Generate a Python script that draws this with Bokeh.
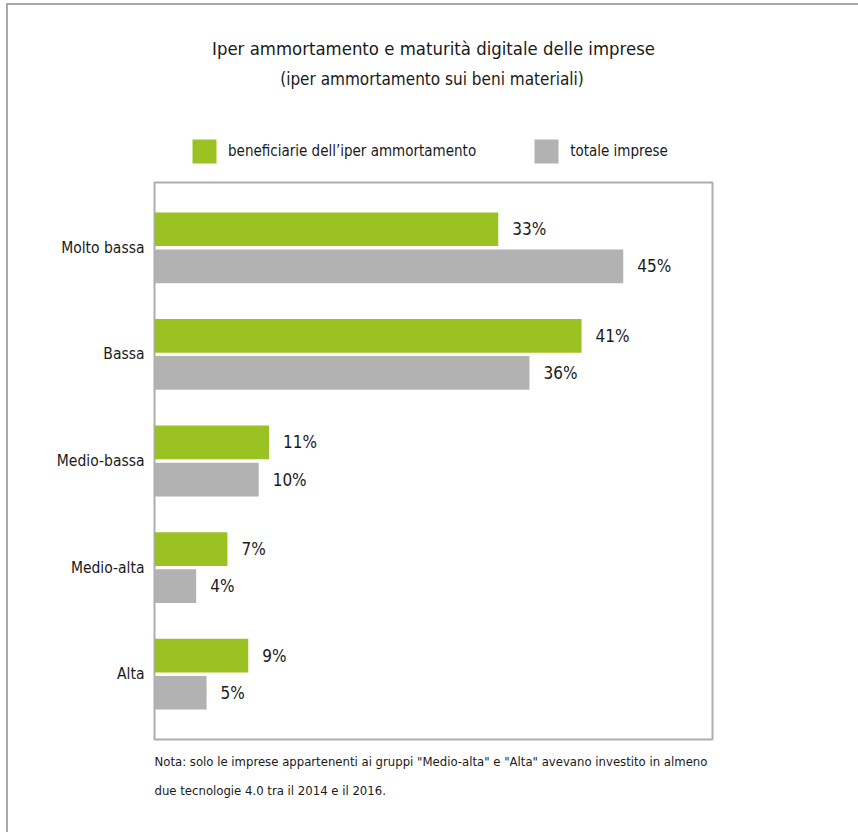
from bokeh.plotting import figure
from bokeh.layouts import column
from bokeh.models import (ColumnDataSource, FactorRange, Range1d, Legend,
                          LegendItem, Title, Label)
from bokeh.transform import dodge
from bokeh.core.properties import value
from bokeh.embed import file_html
from bokeh.resources import INLINE

categories = ["Molto bassa", "Bassa", "Medio-bassa", "Medio-alta", "Alta"]
beneficiarie = [33, 41, 11, 7, 9]
totale = [45, 36, 10, 4, 5]
series_names = ["beneficiarie dell\u2019iper ammortamento", "totale imprese"]
title_text = "Iper ammortamento e maturit\u00e0 digitale delle imprese"
subtitle_text = "(iper ammortamento sui beni materiali)"
note_lines = ['Nota: solo le imprese appartenenti ai gruppi "Medio-alta" e "Alta" avevano investito in almeno',
              "due tecnologie 4.0 tra il 2014 e il 2016."]

FONT = "DejaVu Sans Condensed"
GREEN = "#9bc223"
GRAY = "#b2b2b2"
TXT = "#1a1a1a"
W = 850
HEAD_H = 172
MAIN_H = 655

src = ColumnDataSource(dict(
    cat=categories,
    benef=beneficiarie,
    tot=totale,
    benef_lbl=[f"{v}%" for v in beneficiarie],
    tot_lbl=[f"{v}%" for v in totale],
))

# ---------- header: title, subtitle, legend ----------
head = figure(width=W, height=HEAD_H, output_backend="svg", toolbar_location=None,
              title=None, x_range=Range1d(0, 1), y_range=Range1d(0, 1),
              x_axis_location=None, y_axis_location=None,
              min_border_left=0, min_border_right=0, min_border_top=0,
              min_border_bottom=0)
head.xgrid.visible = False
head.ygrid.visible = False
head.outline_line_color = None

# legend carriers: categorical y on the header's numeric range -> nothing is drawn
h1 = head.hbar(y="cat", right="benef", left=0, height=0, color=GREEN,
               line_color=None, source=src)
h2 = head.hbar(y="cat", right="tot", left=0, height=0, color=GRAY,
               line_color=None, source=src)

legend = Legend(items=[LegendItem(label=series_names[0], renderers=[h1], index=0),
                       LegendItem(label=series_names[1], renderers=[h2], index=0)],
                orientation="horizontal", location=(35, 11),
                glyph_width=30, glyph_height=30, label_standoff=9, spacing=55,
                label_height=30,
                label_text_font=FONT, label_text_font_size="15px",
                label_text_color=TXT, border_line_color=None,
                background_fill_alpha=0, padding=0, margin=0)
head.add_layout(legend, "center")

head.add_layout(Label(x=279, y=129, x_units="screen", y_units="screen", text=title_text,
                      text_align="center", text_baseline="middle", text_font=FONT,
                      text_font_size="18.4px", text_color=TXT))
head.add_layout(Label(x=277.5, y=99, x_units="screen", y_units="screen",
                      text=subtitle_text, text_align="center", text_baseline="middle",
                      text_font=FONT, text_font_size="17px", text_color=TXT))

# ---------- main chart ----------
p = figure(width=W, height=MAIN_H, output_backend="svg", toolbar_location=None,
           title=None,
           y_range=FactorRange(factors=categories[::-1], range_padding=0.1125,
                               range_padding_units="absolute"),
           x_range=Range1d(0, 53.57),
           min_border_left=146, min_border_right=146, min_border_top=5,
           min_border_bottom=93)

OFF = 0.174
BH = 0.316
p.hbar(y=dodge("cat", OFF, range=p.y_range), left=0, right="benef", height=BH,
       color=GREEN, line_color=None, source=src)
p.hbar(y=dodge("cat", -OFF, range=p.y_range), left=0, right="tot", height=BH,
       color=GRAY, line_color=None, source=src)

for col, lbl, off in (("benef", "benef_lbl", OFF), ("tot", "tot_lbl", -OFF)):
    p.text(x=col, y=dodge("cat", off, range=p.y_range), text=lbl, x_offset=14,
           text_baseline="middle", text_align="left", text_font=value(FONT),
           text_font_size="17px", text_color=TXT, source=src)

p.xaxis.visible = False
p.xgrid.visible = False
p.ygrid.visible = False
p.yaxis.axis_line_color = None
p.yaxis.major_tick_line_color = None
p.yaxis.minor_tick_line_color = None
p.yaxis.major_tick_out = 0
p.yaxis.major_tick_in = 0
p.yaxis.major_label_standoff = 10
p.yaxis.major_label_text_font = FONT
p.yaxis.major_label_text_font_size = "15.5px"
p.yaxis.major_label_text_color = TXT
p.outline_line_color = "#adadad"
p.outline_line_width = 2

p.add_layout(Title(text=note_lines[0], align="left", text_font=FONT,
                   text_font_size="13px", text_font_style="normal",
                   text_color=TXT, standoff=24), "below")
p.add_layout(Title(text=note_lines[1], align="left", text_font=FONT,
                   text_font_size="13px", text_font_style="normal",
                   text_color=TXT, standoff=0), "below")

layout = column(head, p, spacing=0)
layout.margin = (3, 0, 0, 6)
layout.styles = {"border-left": "2px solid #a9a9a9", "border-top": "2px solid #a9a9a9"}

open("out.html", "w").write(file_html(layout, INLINE))
